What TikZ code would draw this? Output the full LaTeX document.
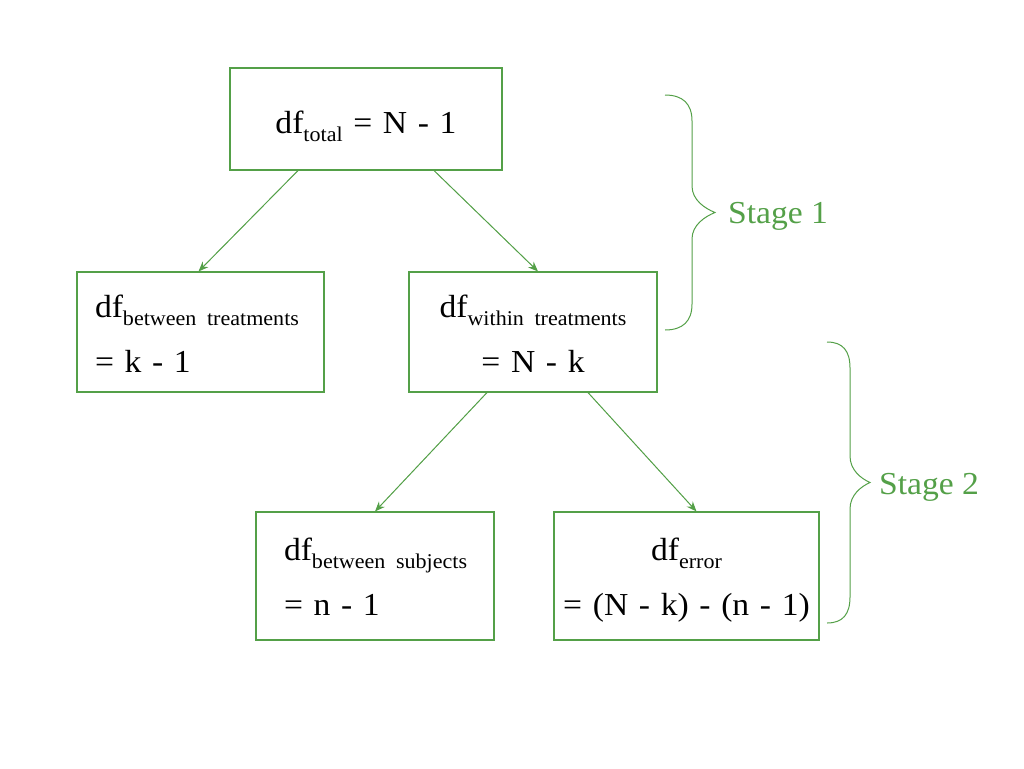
\documentclass[tikz,border=0pt]{standalone}
\usepackage{fontspec}
\setmainfont{Liberation Serif}[FakeStretch=1.05]
\usetikzlibrary{arrows.meta}
\definecolor{dfgreen}{RGB}{84,160,72}
\newcommand{\dfsub}[1]{\raisebox{-8pt}{\fontsize{21}{21}\selectfont #1}}

\begin{document}
\begin{tikzpicture}[x=1pt, y=-1pt,
    box/.style={draw=dfgreen, line width=1.1pt, rectangle, inner sep=0pt, font=\fontsize{32}{55}\selectfont},
    arr/.style={-{Stealth[length=10pt,width=8pt]}, draw=dfgreen, fill=dfgreen, line width=1pt},
    brc/.style={draw=dfgreen, line width=1pt},
    stage/.style={text=dfgreen, anchor=base west, inner sep=0pt, font=\fontsize{32}{32}\selectfont}]

    \useasboundingbox (0,0) rectangle (1024,768);

    \node[box, text width=272pt, text height=65pt, text depth=37pt, align=center] (tot) at (366,119) {df\dfsub{total} = N - 1};
    \node[box, text width=211pt, inner xsep=18pt, text height=45pt, text depth=75pt, align=left] (btw) at (200.5,332) {df\dfsub{between treatments}\\= k - 1};
    \node[box, text width=248pt, text height=45pt, text depth=75pt, align=center] (wth) at (533,332) {df\dfsub{within treatments}\\= N - k};
    \node[box, text width=182pt, inner xsep=28pt, text height=48pt, text depth=80pt, align=left] (bsub) at (375,576) {df\dfsub{between subjects}\\= n - 1};
    \node[box, text width=265pt, text height=48pt, text depth=80pt, align=center] (err) at (686.5,576) {df\dfsub{error}\\= (N - k) - (n - 1)};

    \draw[arr] ([xshift=-68pt]tot.south) -- ([xshift=-2pt]btw.north);
    \draw[arr] ([xshift=68pt]tot.south) -- ([xshift=5pt]wth.north);
    \draw[arr] ([xshift=-46pt]wth.south) -- (bsub.north);
    \draw[arr] ([xshift=55pt]wth.south) -- ([xshift=10pt]err.north);

    % stages
    \coordinate (s1top) at (665,95);
    \coordinate (s2top) at (827,342);
    \draw[brc] (s1top) .. controls +(18,0) and +(0,-17) .. ++(27,26) -- ++(0,65)
        .. controls +(0,14) and +(-10,-4) .. ++(23,26.5)
        .. controls +(-10,4) and +(0,-14) .. ++(-23,26.5) -- ++(0,65)
        .. controls +(0,17) and +(18,0) .. ++(-27,26);
    \draw[brc] (s2top) .. controls +(16,0) and +(0,-17) .. ++(23,26) -- ++(0,88)
        .. controls +(0,14) and +(-9,-4) .. ++(20,26.5)
        .. controls +(-9,4) and +(0,-14) .. ++(-20,26.5) -- ++(0,88)
        .. controls +(0,17) and +(16,0) .. ++(-23,26);
    \node[stage] (st1) at (728,223) {Stage 1};
    \node[stage] (st2) at (879,494) {Stage 2};

\end{tikzpicture}
\end{document}
